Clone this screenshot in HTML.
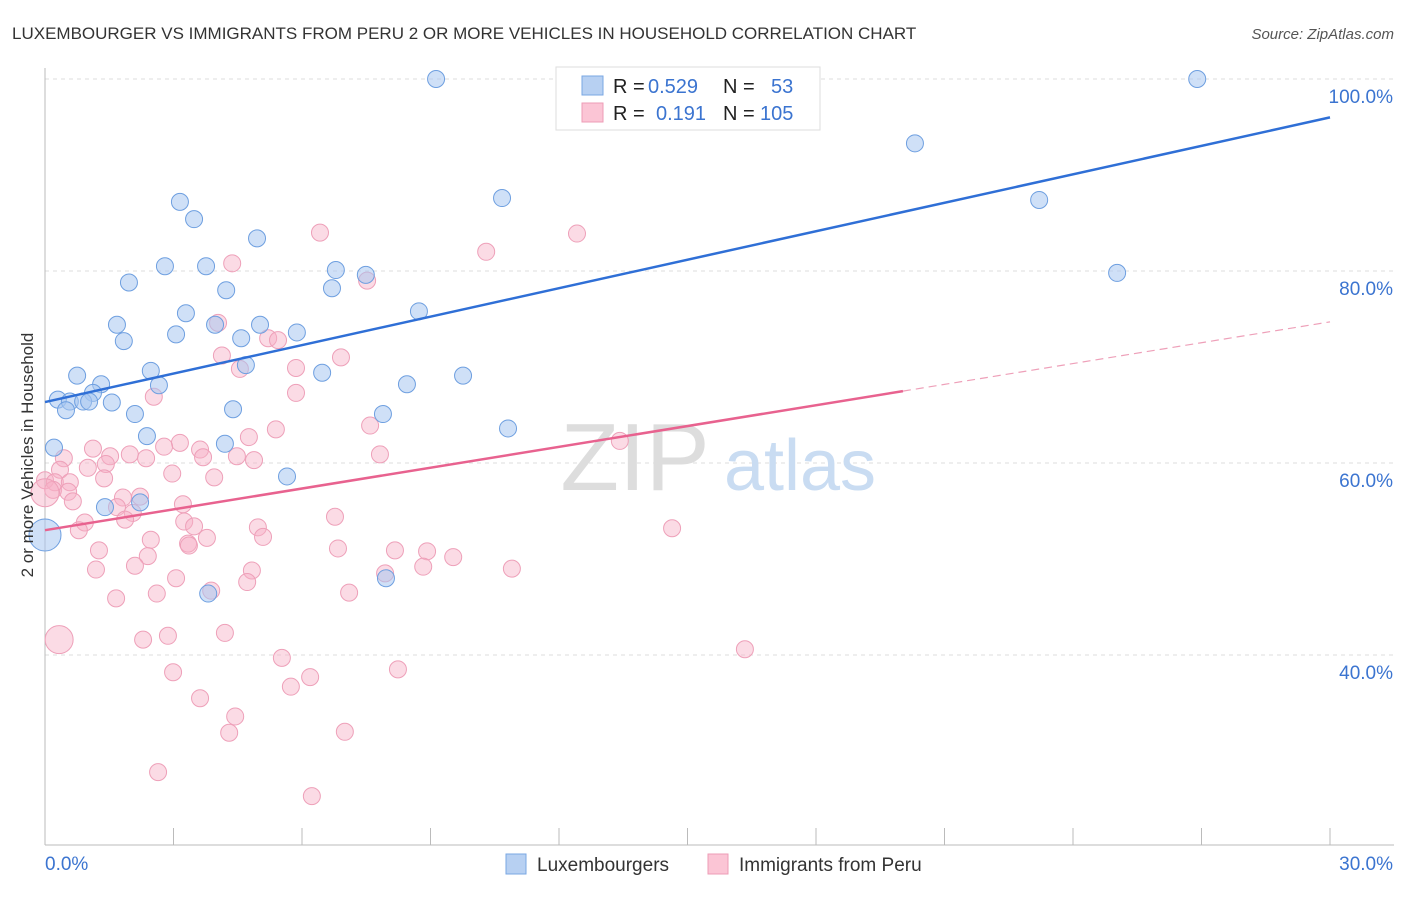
<!DOCTYPE html>
<html><head><meta charset="utf-8">
<style>
body{margin:0;background:#fff;font-family:"Liberation Sans",sans-serif;}
svg text{font-family:"Liberation Sans",sans-serif;}
</style></head>
<body>
<svg id="chart" width="1406" height="892">
<text x="12" y="39" font-size="17" fill="#333">LUXEMBOURGER VS IMMIGRANTS FROM PERU 2 OR MORE VEHICLES IN HOUSEHOLD CORRELATION CHART</text>
<text x="1394" y="39" font-size="15" fill="#555" text-anchor="end" font-style="italic">Source: ZipAtlas.com</text>
<g id="grid"></g>
<g>
<text x="635" y="490" font-size="96" fill="#ddd" text-anchor="middle" font-family="Liberation Serif">ZIP</text>
<text x="800" y="490" font-size="72" fill="#c9dcf2" text-anchor="middle">atlas</text>
</g>
<g id="axes"></g>
<g id="pts"></g>
<g id="lines"></g>
<text transform="translate(33,455) rotate(-90)" font-size="17" fill="#333" text-anchor="middle">2 or more Vehicles in Household</text>
<g>
<rect x="556" y="67" width="264" height="63" fill="#fff" stroke="#ddd"/>
<rect x="582" y="76" width="21" height="19" fill="#b7d0f2" stroke="#7aa7e3"/>
<rect x="582" y="103" width="21" height="19" fill="#fbc5d5" stroke="#ee9cb6"/>
<text y="93" font-size="20"><tspan x="613" fill="#222">R = </tspan><tspan x="648" fill="#3b74d0">0.529</tspan><tspan x="723" fill="#222">N = </tspan><tspan x="771" fill="#3b74d0">53</tspan></text>
<text y="120" font-size="20"><tspan x="613" fill="#222">R = </tspan><tspan x="656" fill="#3b74d0">0.191</tspan><tspan x="723" fill="#222">N = </tspan><tspan x="760" fill="#3b74d0">105</tspan></text>
</g>
<g>
<rect x="506" y="854" width="20" height="20" fill="#b7d0f2" stroke="#7aa7e3"/>
<text x="537" y="871" font-size="19" fill="#333">Luxembourgers</text>
<rect x="708" y="854" width="20" height="20" fill="#fbc5d5" stroke="#ee9cb6"/>
<text x="739" y="871" font-size="19" fill="#333">Immigrants from Peru</text>
</g>
</svg>
<script>
const luxX=[9.13,26.9,20.31,23.21,25.03,10.67,3.15,3.48,4.95,2.80,3.76,6.79,7.49,1.96,4.23,6.70,3.29,8.73,1.68,3.97,5.02,3.06,1.84,4.58,5.88,4.69,2.47,6.47,0.75,9.76,1.31,2.66,8.45,1.12,0.30,0.58,0.89,1.03,1.56,0.49,4.39,2.10,7.89,2.38,10.81,4.20,0.21,5.65,1.40,2.22,3.81,7.96,0];
const luxY=[100,100,93.3,87.4,79.8,87.6,87.2,85.4,83.4,80.5,80.5,80.1,79.6,78.8,78.0,78.2,75.6,75.8,74.4,74.4,74.4,73.4,72.7,73.0,73.6,70.2,69.6,69.4,69.1,69.1,68.2,68.1,68.2,67.3,66.6,66.4,66.4,66.4,66.3,65.5,65.6,65.1,65.1,62.8,63.6,62.0,61.6,58.6,55.4,55.9,46.4,48.0,52.5];
const luxBig=[52];
const peruX=[12.30,6.42,12.42,10.30,4.37,7.52,4.04,5.21,5.44,4.13,6.91,4.55,5.86,2.54,5.86,7.59,5.39,13.42,4.76,3.15,2.78,1.12,3.62,3.69,4.48,4.88,1.98,1.52,2.36,0.44,7.82,1.42,2.97,3.95,1.00,0.35,1.38,0,0.23,0.58,0.19,0.54,1.82,2.22,0.65,1.68,3.22,2.05,1.87,6.77,3.25,3.48,0.93,0.79,4.97,14.64,5.09,3.78,2.47,3.34,3.36,1.26,2.40,6.84,8.17,8.92,9.53,2.10,1.19,4.83,7.94,10.90,8.83,3.06,4.72,3.88,2.61,7.10,1.66,4.20,2.87,2.29,0.33,16.34,5.53,8.24,2.99,6.19,5.74,3.62,4.44,4.30,7.00,2.64,6.23,0];
const peruY=[100,84.0,83.9,82.0,80.8,79.0,74.6,73.0,72.8,71.2,71.0,69.8,69.9,66.9,67.3,63.9,63.5,62.3,62.7,62.1,61.7,61.5,61.4,60.6,60.7,60.3,60.9,60.7,60.5,60.5,60.9,59.9,58.9,58.5,59.5,59.3,58.4,58.2,58.0,58.0,57.2,57.0,56.4,56.5,56.0,55.4,55.7,54.8,54.1,54.4,53.9,53.4,53.8,53.0,53.3,53.2,52.3,52.2,52.0,51.6,51.4,50.9,50.3,51.1,50.9,50.8,50.2,49.3,48.9,48.8,48.5,49.0,49.2,48.0,47.6,46.7,46.4,46.5,45.9,42.3,42.0,41.6,41.6,40.6,39.7,38.5,38.2,37.7,36.7,35.5,33.6,31.9,32.0,27.8,25.3,56.9];
const peruBig=[82,95];
const luxTrend=[66.35,96.0];
const peruTrend=[53.0,74.7];
const peruSolidEnd=20.03;
const yTicks=[40,60,80,100];
const xTickLabels=["0.0%","30.0%"];
const NS="http://www.w3.org/2000/svg";
const X0=45,X1=1330,YT=79;
const xs=v=>X0+(v/30)*(X1-X0);
const ys=v=>YT+(100-v)*9.6;
function mk(tag,attrs,parent){const e=document.createElementNS(NS,tag);for(const k in attrs)e.setAttribute(k,attrs[k]);parent.appendChild(e);return e;}
const grid=document.getElementById('grid'),axes=document.getElementById('axes'),pts=document.getElementById('pts'),lines=document.getElementById('lines');
yTicks.forEach(t=>{
 const l=mk('line',{x1:X0,x2:1394,y1:ys(t),y2:ys(t),stroke:'#ddd','stroke-dasharray':'4,4'},grid);
 
 
 const tx=mk('text',{x:1393,y:ys(t)+24,'font-size':19,fill:'#3b74d0','text-anchor':'end'},axes);
 tx.textContent=t.toFixed(1)+'%';
 
 
});
const ax=mk('line',{x1:X0,x2:1394,y1:845,y2:845,stroke:'#bbb'},axes);


const ay=mk('line',{x1:X0,x2:X0,y1:68,y2:845,stroke:'#bbb'},axes);


for(let i=0;i<=10;i++){
 const tk=mk('line',{x1:xs(i*3),x2:xs(i*3),y1:828,y2:845,stroke:'#bbb'},axes);
 
 
}
const xl0=mk('text',{x:45,y:870,'font-size':19,fill:'#3b74d0'},axes);
xl0.textContent=xTickLabels[0];


const xl1=mk('text',{x:1393,y:870,'font-size':19,fill:'#3b74d0','text-anchor':'end'},axes);
xl1.textContent=xTickLabels[1];


peruX.forEach((v,i)=>{
 const c=mk('circle',{cx:xs(v),cy:ys(peruY[i]),r:peruBig.includes(i)?14:8.5,fill:'rgba(247,175,198,0.45)',stroke:'#eea0b9','stroke-width':1},pts);
 
 
});
luxX.forEach((v,i)=>{
 const c=mk('circle',{cx:xs(v),cy:ys(luxY[i]),r:luxBig.includes(i)?16:8.5,fill:'rgba(168,198,240,0.55)',stroke:'#6e9fe0','stroke-width':1},pts);
 
 
});
const bl=mk('line',{x1:xs(0),y1:ys(luxTrend[0]),x2:xs(30),y2:ys(luxTrend[1]),stroke:'#2f6fd6','stroke-width':2.5},lines);


const pm=peruTrend[0]+(peruTrend[1]-peruTrend[0])*peruSolidEnd/30;
const pl=mk('line',{x1:xs(0),y1:ys(peruTrend[0]),x2:xs(peruSolidEnd),y2:ys(pm),stroke:'#e8628f','stroke-width':2.5},lines);


const pd=mk('line',{x1:xs(peruSolidEnd),y1:ys(pm),x2:xs(30),y2:ys(peruTrend[1]),stroke:'#eea0b9','stroke-width':1.2,'stroke-dasharray':'8,5'},lines);


</script>
</body></html>
